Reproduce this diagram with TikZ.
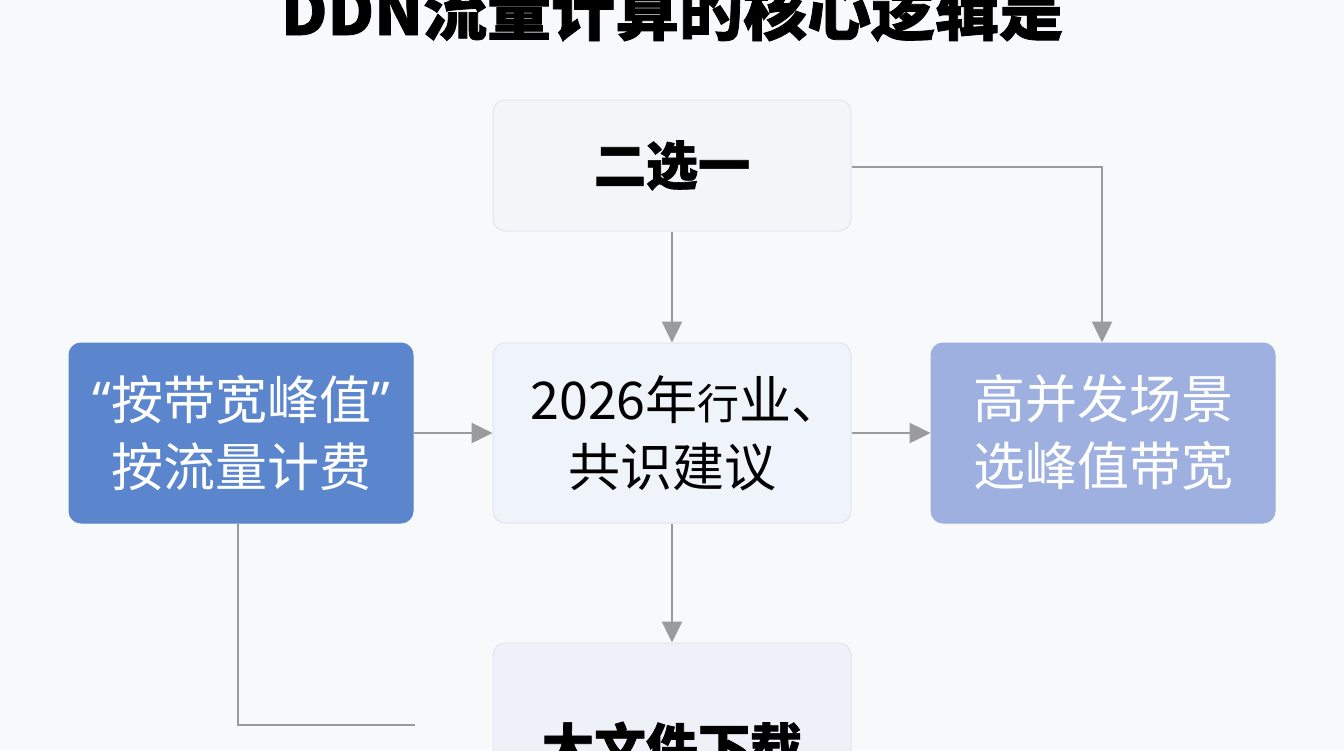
\documentclass[tikz,border=0pt]{standalone}
\usepackage{fontspec}
\setmainfont{Noto Sans CJK SC}
\newfontfamily\heavyfont[FakeBold=1.2]{Noto Sans CJK SC}
\newfontfamily\latinq{Noto Sans}
\usetikzlibrary{arrows.meta}
\definecolor{bgc}{RGB}{248,249,251}
\definecolor{linec}{RGB}{155,155,158}
\definecolor{leftc}{RGB}{91,134,205}
\definecolor{rightc}{RGB}{157,176,224}
\definecolor{midc}{RGB}{238,244,250}
\definecolor{topc}{RGB}{244,245,248}
\definecolor{botc}{RGB}{239,241,248}
\definecolor{edgec}{RGB}{226,229,236}
\tikzset{
  box/.style={rounded corners=12pt, draw=edgec, line width=1pt, inner sep=0pt,
    minimum width=358pt, minimum height=180pt, align=center,
    font=\fontsize{52}{67}\selectfont},
  colbox/.style={box, minimum width=344pt, text=white},
  heavy/.style={font=\fontsize{52}{67}\selectfont\heavyfont\bfseries},
  conn/.style={draw=linec, line width=2.5pt},
  arr/.style={conn, -{Triangle[length=21pt,width=20pt]}}
}
\begin{document}
\begin{tikzpicture}[x=1pt,y=-1pt]
\useasboundingbox (0,0) rectangle (1344,750);
\clip (0,0) rectangle (1344,750);
\fill[bgc] (0,0) rectangle (1344,750);
\node[anchor=base, font=\fontsize{64}{70}\selectfont\heavyfont\bfseries] (title) at (672,35) {DDN流量计算的核心逻辑是};
\node[box, heavy, fill=topc, minimum height=131pt] (top) at (672,165.5) {二选一};
\node[box, fill=midc] (mid) at (672,433) {2026年{\fontsize{42}{67}\selectfont 行}业、\hspace*{-30pt}\\共识建议};
\node[colbox, fill=leftc, draw=leftc] (left) at (241,433) {{\latinq “}按带宽峰值{\latinq ”}\\按流量计费};
\node[colbox, fill=rightc, draw=rightc] (right) at (1103,433) {高并发场景\\选峰值带宽};
\node[box, heavy, fill=botc, minimum height=208pt] (bot) at (672,747) {大文件下载};
\coordinate (lc) at (238,725);
\coordinate (le) at (415,725);
\coordinate (tr) at (1102,167);
\draw[arr] (top.south) -- (mid.north);
\draw[arr] (top.east |- tr) -- (tr) -- (right.north -| tr);
\draw[arr] (left.east) -- (mid.west);
\draw[arr] (mid.east) -- (right.west);
\draw[arr] (mid.south) -- (bot.north);
\draw[conn] (left.south -| lc) -- (lc) -- (le);
\end{tikzpicture}
\end{document}
